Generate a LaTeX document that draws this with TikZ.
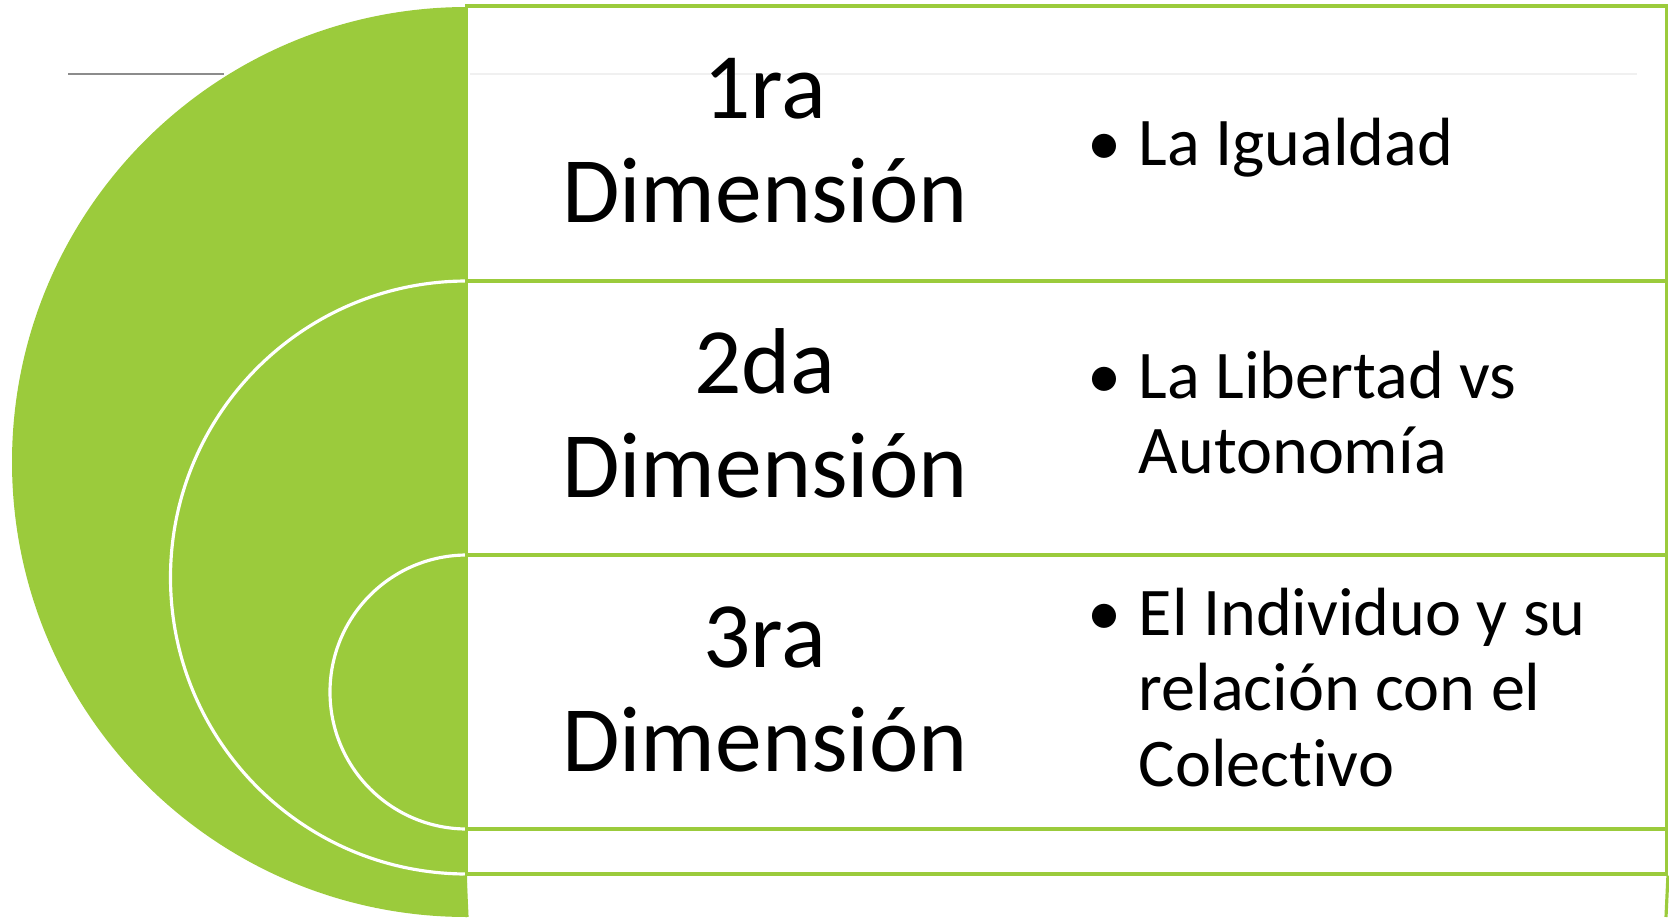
\documentclass[tikz,border=0pt]{standalone}
\usepackage{fontspec}
\setmainfont{Carlito}[Ligatures=NoCommon]
\definecolor{leafgreen}{RGB}{155,203,60}
\definecolor{ruleline}{RGB}{140,140,140}
\definecolor{faintline}{RGB}{240,240,240}
\newcommand{\itembullet}{\makebox[0pt][r]{\textbullet\hspace{0.25em}}}
\tikzset{
    rowbox/.style={draw=leafgreen, line width=0.9pt, minimum width=11.99cm, inner sep=0pt},
    halfdisc/.style={fill=leafgreen, draw=white, line width=0.9pt},
    dimlabel/.style={text width=4.6cm, align=flush center, inner sep=0pt, anchor=base,
        font=\fontsize{26.6}{29.6}\selectfont},
    itemtext/.style={text width=5.2cm, align=flush left, inner sep=0pt, anchor=base west,
        font=\fontsize{19.4}{21.6}\selectfont}
}
\begin{document}
\begin{tikzpicture}[x=0.01cm, y=0.01cm]
        \useasboundingbox (0,0) rectangle (1669,917);
        % Half discs
        \fill[leafgreen] (467,910) arc[start angle=90, end angle=270, radius=455] -- cycle;
        \draw[halfdisc] (467,636) arc[start angle=90, end angle=270, radius=296.5];
        \draw[halfdisc] (467,362) arc[start angle=90, end angle=270, radius=137];
        
        % Lines
        \draw[ruleline, line width=0.5pt] (68,843) -- (224,843);
        \draw[faintline, line width=0.6pt] (470,843) -- (1637,843);
        
        % Rows
        \node[rowbox, minimum height=2.75cm] (row1) at (1066.5,773.5) {};
        \node[rowbox, minimum height=2.74cm] (row2) at (1066.5,499) {};
        \node[rowbox, minimum height=2.74cm] (row3) at (1066.5,225) {};
        \node[rowbox, minimum height=0.45cm] (strip) at (1066.5,65.5) {};
        \coordinate (leftend) at (467,0);
        \coordinate (rightend) at (1666,0);
        \draw[leafgreen, line width=0.9pt] (strip.south west) -- (leftend);
        \draw[leafgreen, line width=0.9pt] (strip.south east) -- (rightend);
        
        % Nodes
        \node[dimlabel] (dim1) at (765,799) {1ra\\Dimensión};
        \node[dimlabel] (dim2) at (765,524) {2da\\Dimensión};
        \node[dimlabel] (dim3) at (765,250) {3ra\\Dimensión};
        
        \node[itemtext] (item1) at (1138,752) {\itembullet La Igualdad};
        \node[itemtext] (item2) at (1138,519) {\itembullet La Libertad vs\\Autonomía};
        \node[itemtext] (item3) at (1138,282) {\itembullet El Individuo y su\\relación con el\\Colectivo};
        
    \end{tikzpicture}
\end{document}
